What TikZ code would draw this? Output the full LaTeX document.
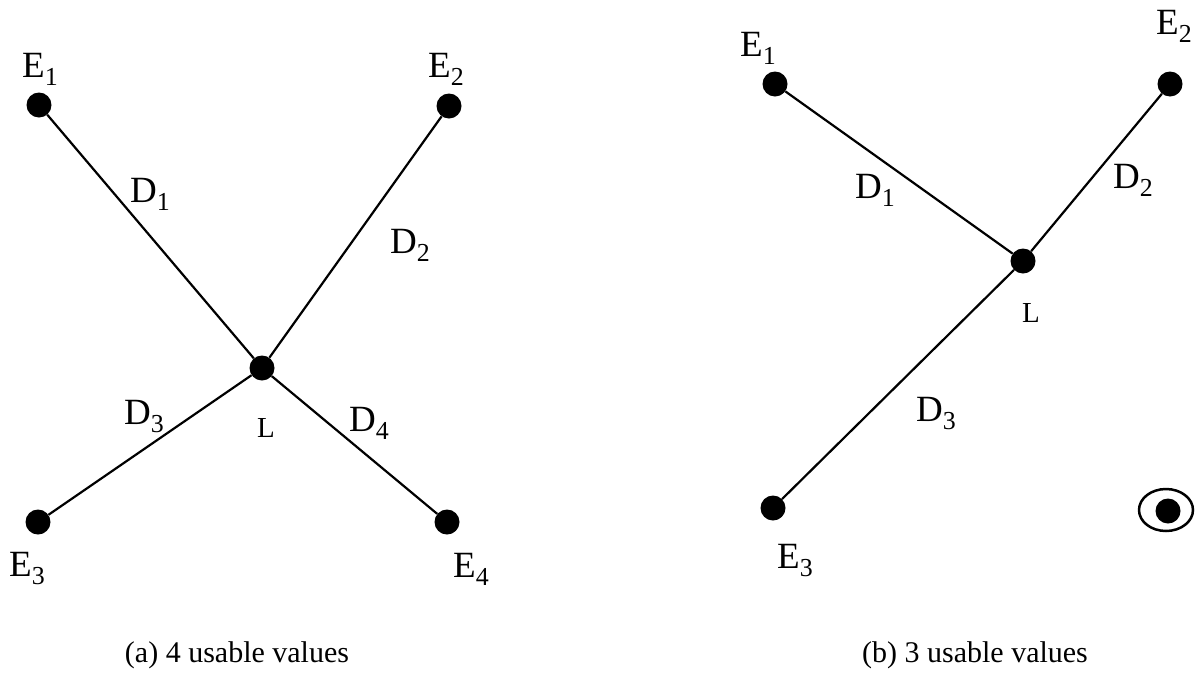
\documentclass[tikz,border=0pt]{standalone}
\usepackage{fontspec}
\setmainfont{Liberation Serif}
\usetikzlibrary{shapes.geometric}
\tikzset{
  dot/.style={circle,fill=black,inner sep=0pt,minimum size=25pt},
  edge/.style={line width=2.2pt},
  lab/.style={inner sep=0pt,anchor=base west,font=\fontsize{37}{42}\selectfont},
  llab/.style={inner sep=0pt,anchor=base west,font=\fontsize{29}{34}\selectfont},
  captext/.style={inner sep=0pt,font=\fontsize{30}{35}\selectfont},
  ring/.style={ellipse,draw,line width=2.5pt,minimum width=54pt,minimum height=42pt,inner sep=0pt}
}
\begin{document}
\begin{tikzpicture}[x=1pt,y=-1pt]
\useasboundingbox (0,0) rectangle (1203,678);
% left panel
\node[dot] (ae1) at (39,105) {};
\node[dot] (ae2) at (449,106) {};
\node[dot] (al) at (262,368) {};
\node[dot] (ae3) at (38,522) {};
\node[dot] (ae4) at (447,522) {};
\draw[edge] (ae1) -- (al);
\draw[edge] (ae2) -- (al);
\draw[edge] (ae3) -- (al);
\draw[edge] (ae4) -- (al);
\node[lab] (tae1) at (22,77) {E\textsubscript{1}};
\node[lab] (tae2) at (428,77) {E\textsubscript{2}};
\node[lab] (tae3) at (9,576) {E\textsubscript{3}};
\node[lab] (tae4) at (453,577) {E\textsubscript{4}};
\node[lab] (tad1) at (130,202) {D\textsubscript{1}};
\node[lab] (tad2) at (390,253) {D\textsubscript{2}};
\node[lab] (tad3) at (124,424) {D\textsubscript{3}};
\node[lab] (tad4) at (349,431) {D\textsubscript{4}};
\node[llab] (tal) at (257,437) {L};
\node[captext] (capa) at (237,655) {(a) 4 usable values};
% right panel
\node[dot] (be1) at (775,84) {};
\node[dot] (be2) at (1170,84) {};
\node[dot] (bl) at (1023,261) {};
\node[dot] (be3) at (773,508) {};
\draw[edge] (be1) -- (bl);
\draw[edge] (be2) -- (bl);
\draw[edge] (be3) -- (bl);
\node[lab] (tbe1) at (740,56) {E\textsubscript{1}};
\node[lab] (tbe2) at (1156,34) {E\textsubscript{2}};
\node[lab] (tbe3) at (777,568) {E\textsubscript{3}};
\node[lab] (tbd1) at (855,198) {D\textsubscript{1}};
\node[lab] (tbd2) at (1113,188) {D\textsubscript{2}};
\node[lab] (tbd3) at (916,421) {D\textsubscript{3}};
\node[llab] (tbl) at (1022,322) {L};
\node[ring] (tgt) at (1166,510) {};
\node[dot] (tgtdot) at (1168,511) {};
\node[captext] (capb) at (975,655) {(b) 3 usable values};
\end{tikzpicture}
\end{document}
